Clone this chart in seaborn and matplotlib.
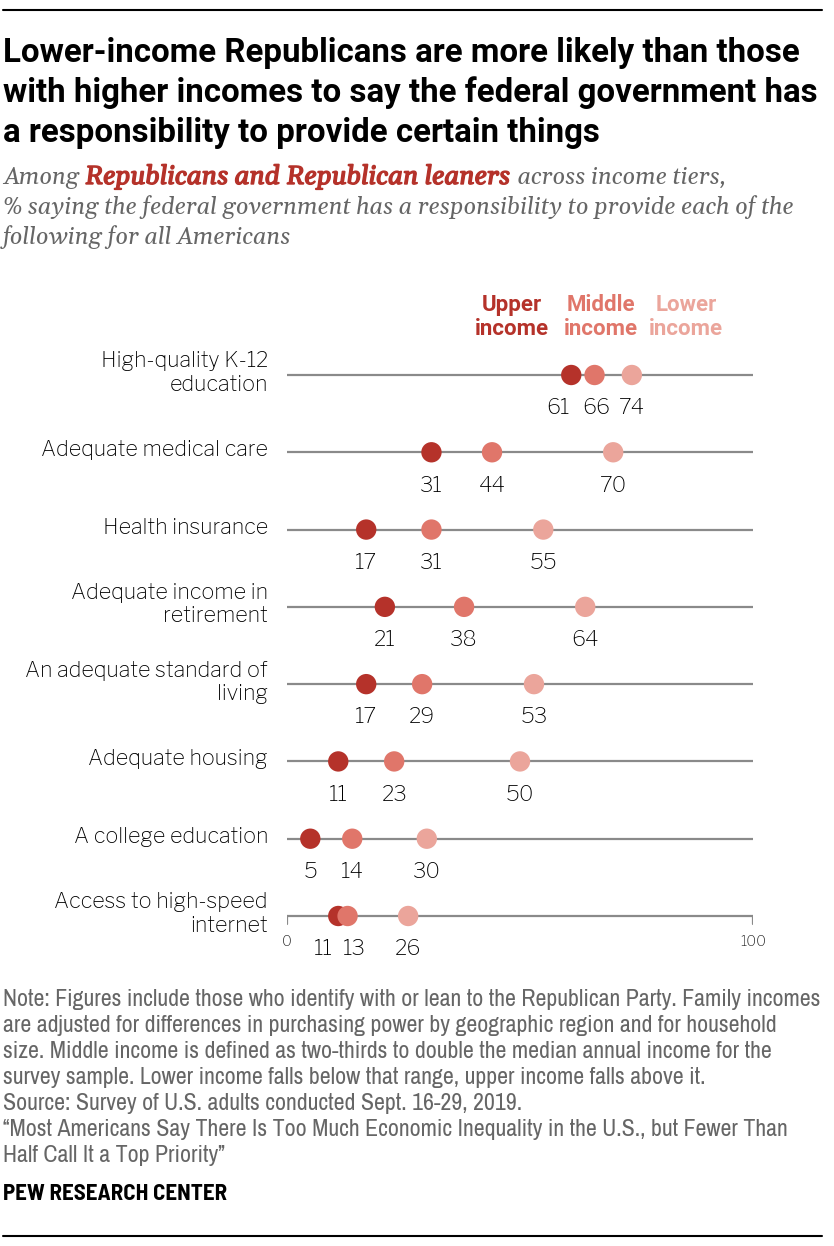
import pandas as pd
import numpy as np
import matplotlib
matplotlib.use("Agg")
import matplotlib.pyplot as plt
import matplotlib.patheffects as pe
import seaborn as sns

# ── Données ────────────────────────────────────────────────────────────────────
CATEGORIES = [
    "High-quality K-12\neducation",
    "Adequate medical care",
    "Health insurance",
    "Adequate income in\nretirement",
    "An adequate standard of\nliving",
    "Adequate housing",
    "A college education",
    "Access to high-speed\ninternet",
]
UPPER  = [61, 31, 17, 21, 17, 11, 5, 11]
MIDDLE = [66, 44, 31, 38, 29, 23, 14, 13]
LOWER  = [74, 70, 55, 64, 53, 50, 30, 26]
TIERS  = ["Upper income", "Middle income", "Lower income"]

COLORS = {"Upper income": "#b5322a", "Middle income": "#e0766a", "Lower income": "#eba59b"}

rows = []
for i, cat in enumerate(CATEGORIES):
    for tier, vals in zip(TIERS, [UPPER, MIDDLE, LOWER]):
        rows.append({"cat": cat, "pos": i, "tier": tier, "value": vals[i]})
df = pd.DataFrame(rows)

# ── Polices ────────────────────────────────────────────────────────────────────
sns.set_theme(style="white")
TITLE_F = ["Roboto", "DejaVu Sans"]
BOOK_F  = ["Libre Franklin", "Liberation Sans", "DejaVu Sans"]
NOTE_F  = ["Archivo Narrow", "Roboto", "DejaVu Sans"]
PEW_F   = ["Barlow Semi Condensed", "Roboto", "DejaVu Sans"]
SERIF_F = ["Gelasio", "Liberation Serif", "DejaVu Serif"]
plt.rcParams["font.family"] = BOOK_F

W, H = 834, 1246
fig = plt.figure(figsize=(W / 100, H / 100), dpi=100)
renderer = fig.canvas.get_renderer()

def fx(px): return px / W
def fy(py): return 1 - py / H

def fit(txt, target_px):
    """ajuste la taille de police pour obtenir la largeur voulue (en pixels)"""
    for _ in range(3):
        w = txt.get_window_extent(renderer).width
        txt.set_fontsize(txt.get_fontsize() * target_px / w)
    return txt.get_fontsize()

# ── Axes principal ─────────────────────────────────────────────────────────────
ax_top, ax_bot = 340, 950
ax = fig.add_axes([fx(287), fy(ax_bot), fx(753) - fx(287), (ax_bot - ax_top) / H])
row_gap = (916 - 375) / 7
ax.set_xlim(0, 100)
ax.set_ylim(7 + (ax_bot - 916) / row_gap, -(375 - ax_top) / row_gap)
ax.axis("off")

for i in range(len(CATEGORIES)):
    ax.plot([0, 100], [i, i], color="#8a8a8a", lw=1.6, zorder=1, solid_capstyle="butt")

sns.scatterplot(data=df, x="value", y="pos", hue="tier", palette=COLORS,
                s=215, edgecolor="none", linewidth=0, legend=False, ax=ax, zorder=3)

# décalages des étiquettes quand les points se chevauchent (pixels)
SHIFT = {(0, "Upper income"): -13, (0, "Middle income"): 2,
         (7, "Upper income"): -15, (7, "Middle income"): 7}
for _, r in df.iterrows():
    dx = SHIFT.get((r["pos"], r["tier"]), 0)
    ax.annotate(str(r["value"]), (r["value"], r["pos"]), xytext=(dx * 0.72, -24),
                textcoords="offset points", ha="center", va="center",
                fontsize=15.5, color="black", family=BOOK_F)

# graduations de la dernière ligne
last = len(CATEGORIES) - 1
for xv in [0, 100]:
    ax.plot([xv, xv], [last, last + 8 / row_gap], color="#8a8a8a", lw=1.6, zorder=1)
    ax.annotate(str(xv), (xv, last), xytext=(0, -18), textcoords="offset points",
                ha="center", va="center", fontsize=10.5, color="#222222", family=BOOK_F)

# libellés de catégories
probe = fig.text(0, 0, "Adequate medical care", fontsize=14, family=BOOK_F)
cat_fs = fit(probe, 227)
probe.remove()
for i, cat in enumerate(CATEGORIES):
    y = fy(375 + i * row_gap - 2)
    fig.text(fx(268), y, cat, ha="right", va="center", ma="right",
             fontsize=cat_fs, color="black", linespacing=1.2, family=BOOK_F)

# en-têtes de légende
probe = fig.text(0, 0, "income", fontsize=15, fontweight="bold", family=TITLE_F)
leg_fs = fit(probe, 74)
probe.remove()
for tier, xc in zip(TIERS, [512, 601, 686]):
    word = tier.split()[0]
    fig.text(fx(xc), fy(317), word + "\nincome", ha="center", va="center", ma="center",
             fontsize=leg_fs, fontweight="bold", color=COLORS[tier], family=TITLE_F,
             linespacing=1.1)

# ── Titre et sous-titre ────────────────────────────────────────────────────────
fig.add_artist(plt.Line2D([fx(3), fx(822)], [fy(10), fy(10)], color="black", lw=1.5))
TITLE = ["Lower-income Republicans are more likely than those",
         "with higher incomes to say the federal government has",
         "a responsibility to provide certain things"]
probe = fig.text(0, 0, TITLE[1], fontsize=22, fontweight="bold", family=TITLE_F)
title_fs = fit(probe, 815)
probe.remove()
for k, line in enumerate(TITLE):
    fig.text(fx(3), fy(62 + k * 40), line, ha="left", va="baseline", fontsize=title_fs,
             fontweight="bold", color="black", family=TITLE_F)

SUB = ["% saying the federal government has a responsibility to provide each of the",
       "following for all Americans"]
probe = fig.text(0, 0, SUB[0], fontsize=16, style="italic", family=SERIF_F)
sub_fs = fit(probe, 791)
probe.remove()
sub_kw = dict(fontsize=sub_fs, style="italic", family=SERIF_F, va="baseline", ha="left")
t1 = fig.text(fx(3), fy(184), "Among ", color="#666666", **sub_kw)
bb = t1.get_window_extent(renderer)
t2 = fig.text(bb.x1 / W, fy(184), "Republicans and Republican leaners", color="#b5322a",
              fontweight="bold", **sub_kw)
t2.set_path_effects([pe.withStroke(linewidth=1.0, foreground="#b5322a")])
fit(t2, 425)
bb2 = t2.get_window_extent(renderer)
fig.text(bb2.x1 / W + 0.003, fy(184), " across income tiers,", color="#666666", **sub_kw)
for k, line in enumerate(SUB):
    fig.text(fx(3), fy(214 + k * 30), line, color="#666666", **sub_kw)

# ── Notes ──────────────────────────────────────────────────────────────────────
NOTES = [
    "Note: Figures include those who identify with or lean to the Republican Party. Family incomes",
    "are adjusted for differences in purchasing power by geographic region and for household",
    "size. Middle income is defined as two-thirds to double the median annual income for the",
    "survey sample. Lower income falls below that range, upper income falls above it.",
    "Source: Survey of U.S. adults conducted Sept. 16-29, 2019.",
    "\u201cMost Americans Say There Is Too Much Economic Inequality in the U.S., but Fewer Than",
    "Half Call It a Top Priority\u201d",
]
probe = fig.text(0, 0, NOTES[0], fontsize=13, family=NOTE_F)
note_fs = fit(probe, 816)
probe.remove()
for k, line in enumerate(NOTES):
    fig.text(fx(3), fy(1006 + k * 26), line, ha="left", va="baseline", fontsize=note_fs,
             color="#666666", family=NOTE_F)

pew = fig.text(fx(3), fy(1200), "PEW RESEARCH CENTER", ha="left", va="baseline", fontsize=13,
               fontweight="bold", color="black", family=PEW_F)
fit(pew, 224)
fig.add_artist(plt.Line2D([fx(3), fx(822)], [fy(1236), fy(1236)], color="black", lw=1.5))

fig.savefig("out.png", dpi=100, facecolor="white")
